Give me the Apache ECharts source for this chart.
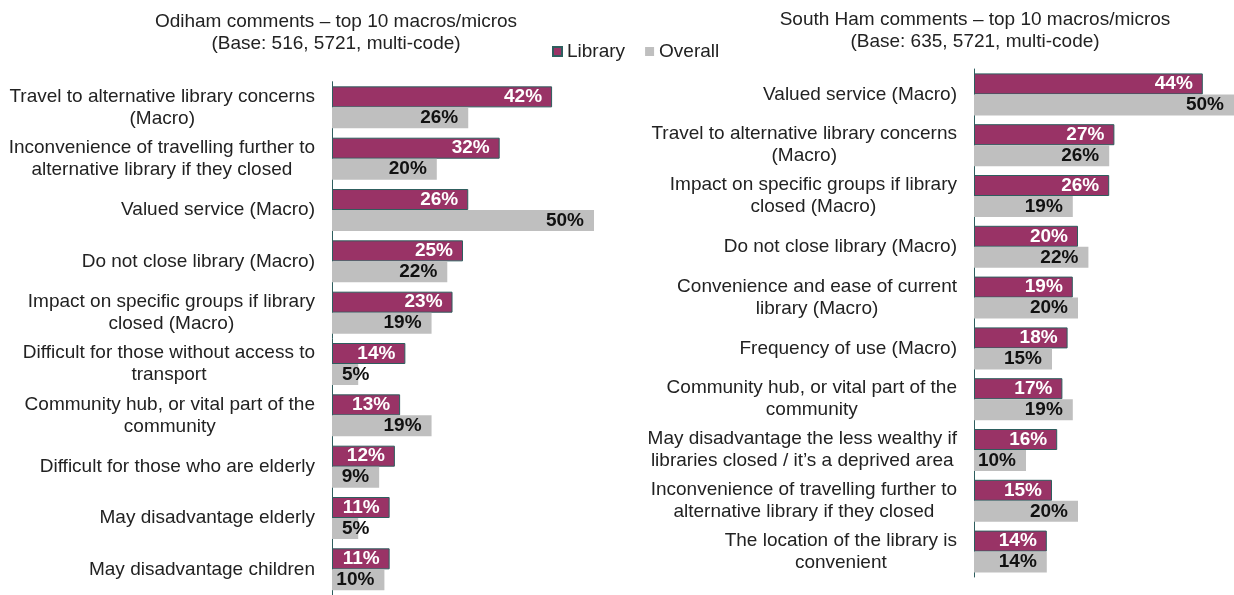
<!DOCTYPE html>
<html>
<head>
<meta charset="utf-8">
<script src="https://cdn.jsdelivr.net/npm/echarts@6/dist/echarts.min.js"></script>
<style>html,body{margin:0;padding:0;background:#fff}#c{width:1234px;height:595px}</style>
</head>
<body>
<div id="c"></div>
<script>
const leftTitle = 'Odiham comments \u2013 top 10 macros/micros\n(Base: 516, 5721, multi-code)';
const rightTitle = 'South Ham comments \u2013 top 10 macros/micros\n(Base: 635, 5721, multi-code)';
const seriesNames = ['Library', 'Overall'];

const leftCategories = [
  'Travel to alternative library concerns\n(Macro)',
  'Inconvenience of travelling further to\nalternative library if they closed',
  'Valued service (Macro)',
  'Do not close library (Macro)',
  'Impact on specific groups if library\nclosed (Macro)',
  'Difficult for those without access to\ntransport',
  'Community hub, or vital part of the\ncommunity',
  'Difficult for those who are elderly',
  'May disadvantage elderly',
  'May disadvantage children'
];
const leftLibrary = [42, 32, 26, 25, 23, 14, 13, 12, 11, 11];
const leftOverall = [26, 20, 50, 22, 19, 5, 19, 9, 5, 10];

const rightCategories = [
  'Valued service (Macro)',
  'Travel to alternative library concerns\n(Macro)',
  'Impact on specific groups if library\nclosed (Macro)',
  'Do not close library (Macro)',
  'Convenience and ease of current\nlibrary (Macro)',
  'Frequency of use (Macro)',
  'Community hub, or vital part of the\ncommunity',
  'May disadvantage the less wealthy if\nlibraries closed / it\u2019s a deprived area',
  'Inconvenience of travelling further to\nalternative library if they closed',
  'The location of the library is\nconvenient'
];
const rightLibrary = [44, 27, 26, 20, 19, 18, 17, 16, 15, 14];
const rightOverall = [50, 26, 19, 22, 20, 15, 19, 10, 20, 14];

const FONT = '"Liberation Sans", Arial, sans-serif';
const FS = 19;
const LIB_COLOR = '#993366';
const OV_COLOR = '#BFBFBF';
const EDGE = '#2E5E5E';
const TXT = '#222222';

function yAxis(idx, cats) {
  return {
    type: 'category', gridIndex: idx, inverse: true, data: cats,
    axisLine: {show: true, lineStyle: {color: EDGE, width: 1}},
    axisTick: {show: false},
    axisLabel: {
      margin: 17, fontFamily: FONT, fontSize: FS, color: TXT,
      formatter: v => v.split('\n').map(l => '{c|' + l + '}').join('\n'),
      rich: {c: {align: 'center', fontFamily: FONT, fontSize: FS, lineHeight: 22, color: TXT}}
    }
  };
}
function xAxis(idx) {
  return {
    type: 'value', gridIndex: idx, min: 0, max: 50,
    axisLine: {show: false}, axisTick: {show: false}, axisLabel: {show: false}, splitLine: {show: false}
  };
}
// labels that do not fit inside the end of a short bar sit at its start (as in the source)
function withLabelPos(data) {
  return data.map(v => v < 7 ? {value: v, label: {position: 'insideLeft'}} : v);
}
function labelStyle(color) {
  return {show: true, position: 'insideRight', distance: 10, formatter: '{c}%',
    color: color, fontWeight: 'bold', fontSize: FS, fontFamily: FONT};
}
function libSeries(idx, data) {
  return {
    name: seriesNames[0], type: 'bar', xAxisIndex: idx, yAxisIndex: idx, data: withLabelPos(data),
    barWidth: 21, barGap: '0%',
    itemStyle: {color: LIB_COLOR, borderColor: EDGE, borderWidth: 1},
    label: labelStyle('#ffffff')
  };
}
function ovSeries(idx, data) {
  return {
    name: seriesNames[1], type: 'bar', xAxisIndex: idx, yAxisIndex: idx, data: withLabelPos(data),
    barWidth: 21, barGap: '0%',
    itemStyle: {color: OV_COLOR},
    label: labelStyle('#111111')
  };
}

const chart = echarts.init(document.getElementById('c'));
chart.setOption({
  animation: false,
  title: [
    {text: leftTitle, left: 331, top: 6, textAlign: 'center',
      textStyle: {fontFamily: FONT, fontSize: FS, fontWeight: 'normal', lineHeight: 22, color: TXT}},
    {text: rightTitle, left: 970, top: 4, textAlign: 'center',
      textStyle: {fontFamily: FONT, fontSize: FS, fontWeight: 'normal', lineHeight: 22, color: TXT}}
  ],
  legend: {
    data: seriesNames, left: 547, top: 37, itemWidth: 9, itemHeight: 9, itemGap: 20,
    icon: 'rect',
    textStyle: {fontFamily: FONT, fontSize: FS, color: TXT}
  },
  grid: [
    {left: 332, width: 262, top: 81.7, height: 517},
    {left: 974, width: 261, top: 69, height: 508}
  ],
  xAxis: [xAxis(0), xAxis(1)],
  yAxis: [yAxis(0, leftCategories), yAxis(1, rightCategories)],
  series: [
    libSeries(0, leftLibrary), ovSeries(0, leftOverall),
    libSeries(1, rightLibrary), ovSeries(1, rightOverall)
  ]
});
</script>
</body>
</html>
